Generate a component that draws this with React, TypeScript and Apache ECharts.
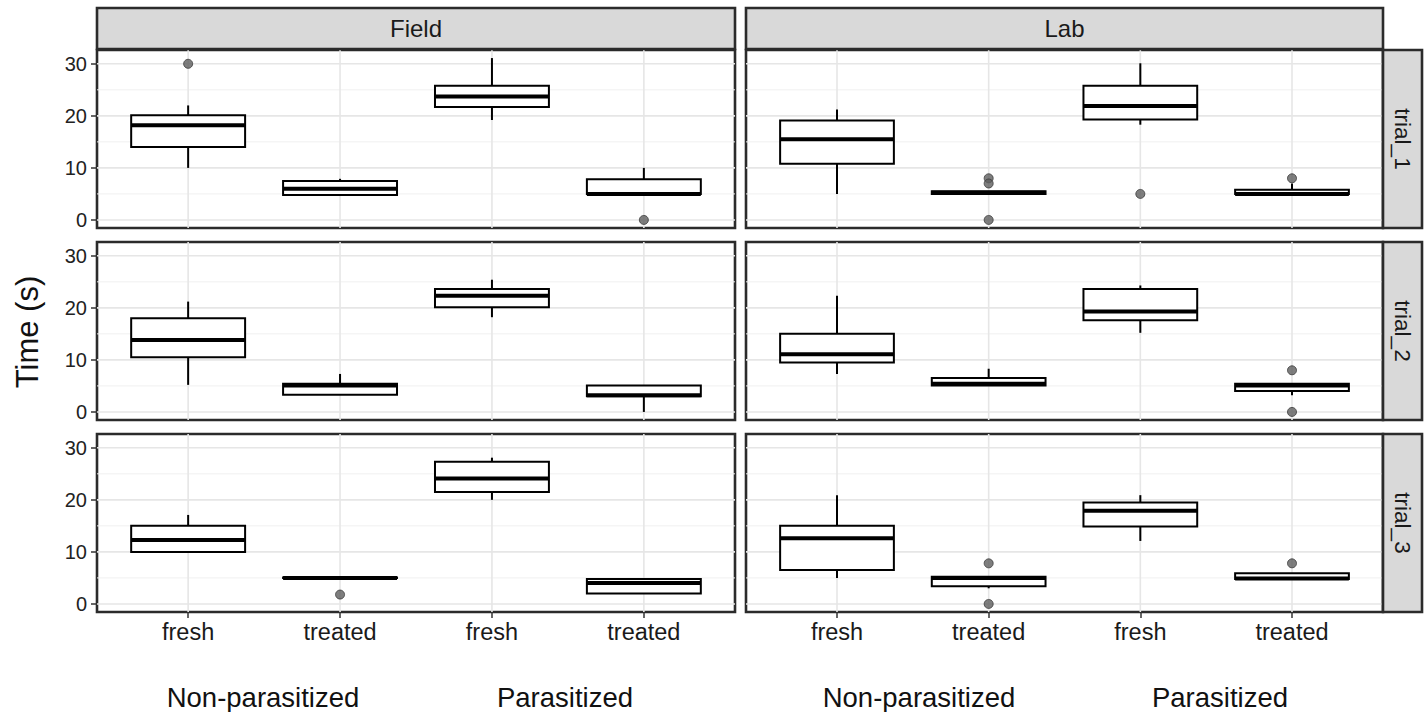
import React, { useEffect, useRef } from "react";
import * as echarts from "echarts";

// ---------- data ----------
const categories = ["fresh", "treated", "fresh", "treated"];
const groupLabels = ["Non-parasitized", "Parasitized"];
const sites = ["Field", "Lab"];
const trials = ["trial_1", "trial_2", "trial_3"];
const yTicks = [0, 10, 20, 30];
const yMinorTicks = [5, 15, 25];
const yTitle = "Time (s)";

// box stats per category: [low whisker, Q1, median, Q3, high whisker]
const fieldTrial1Box = [
  [10, 14, 18.2, 20.1, 22],
  [4.8, 4.8, 6, 7.5, 7.9],
  [19.2, 21.7, 23.7, 25.8, 31.1],
  [5, 5, 5, 7.8, 10],
];
const fieldTrial1Out = [[1, 30], [4, 0]];

const labTrial1Box = [
  [5, 10.8, 15.5, 19.1, 21.2],
  [5, 5, 5.2, 5.5, 5.5],
  [18.3, 19.3, 21.9, 25.8, 30.1],
  [5, 5, 5, 5.8, 7],
];
const labTrial1Out = [[2, 8], [2, 7], [2, 0], [3, 5], [4, 8]];

const fieldTrial2Box = [
  [5.2, 10.5, 13.8, 18, 21.2],
  [3.3, 3.3, 5.1, 5.4, 7.3],
  [18.2, 20.1, 22.3, 23.6, 25.4],
  [0, 3, 3.2, 5.1, 5.1],
];
const fieldTrial2Out: number[][] = [];

const labTrial2Box = [
  [7.3, 9.5, 11.1, 15, 22.3],
  [5.1, 5.1, 5.4, 6.5, 8.3],
  [15.2, 17.6, 19.3, 23.6, 24.3],
  [3.2, 4, 5.1, 5.4, 5.4],
];
const labTrial2Out = [[4, 8], [4, 0]];

const fieldTrial3Box = [
  [10, 10, 12.3, 15, 17.1],
  [5, 5, 5, 5.1, 5.1],
  [20, 21.5, 24.1, 27.3, 28.1],
  [2, 2, 4, 4.8, 4.8],
];
const fieldTrial3Out = [[2, 1.8]];

const labTrial3Box = [
  [5, 6.5, 12.6, 15, 20.9],
  [3, 3.4, 5, 5.2, 5.2],
  [12.1, 14.9, 17.9, 19.5, 20.9],
  [4.8, 4.8, 4.9, 5.9, 5.9],
];
const labTrial3Out = [[2, 7.8], [2, 0], [4, 7.8]];

const panels = [
  { col: 0, row: 0, box: fieldTrial1Box, out: fieldTrial1Out },
  { col: 1, row: 0, box: labTrial1Box, out: labTrial1Out },
  { col: 0, row: 1, box: fieldTrial2Box, out: fieldTrial2Out },
  { col: 1, row: 1, box: labTrial2Box, out: labTrial2Out },
  { col: 0, row: 2, box: fieldTrial3Box, out: fieldTrial3Out },
  { col: 1, row: 2, box: labTrial3Box, out: labTrial3Out },
];

// ---------- layout ----------
const FONT = "Liberation Sans, Arial, sans-serif";
const colLeft = [97, 746];
const colWidth = [638, 637];
const rowTop = [50, 242, 434];
const rowHeight = 178;
const xMin = 0.4;
const xMax = 4.6;
const yMin = -1.55;
const yMax = 32.65;
const boxHalf = 0.375;
const BORDER = "#2b2b2b";

export default function App() {
  const ref = useRef<HTMLDivElement>(null);

  useEffect(() => {
    if (!ref.current) return;
    const chart = echarts.init(ref.current, undefined, { renderer: "svg" });

    const grids: any[] = [];
    const xAxes: any[] = [];
    const yAxes: any[] = [];
    const series: any[] = [];

    panels.forEach((p, i) => {
      grids.push({
        left: colLeft[p.col],
        top: rowTop[p.row],
        width: colWidth[p.col],
        height: rowHeight,
        show: true,
        backgroundColor: "#ffffff",
        borderColor: BORDER,
        borderWidth: 2.6,
        containLabel: false,
      });
      const bottomRow = p.row === 2;
      const leftCol = p.col === 0;
      xAxes.push({
        type: "value",
        gridIndex: i,
        min: xMin,
        max: xMax,
        splitLine: { show: false },
        axisLine: { show: false, onZero: false },
        axisTick: {
          show: bottomRow,
          customValues: [1, 2, 3, 4],
          length: 6,
          lineStyle: { color: "#333", width: 1.5 },
        },
        axisLabel: {
          show: bottomRow,
          customValues: [1, 2, 3, 4],
          formatter: (v: number) => categories[Math.round(v) - 1] ?? "",
          fontSize: 23.5,
          color: "#1a1a1a",
          fontFamily: FONT,
          margin: 8,
        },
      });
      yAxes.push({
        type: "value",
        gridIndex: i,
        min: yMin,
        max: yMax,
        splitLine: { show: false },
        axisLine: { show: false, onZero: false },
        axisTick: {
          show: leftCol,
          customValues: yTicks,
          length: 6,
          lineStyle: { color: "#333", width: 1.5 },
        },
        axisLabel: {
          show: leftCol,
          customValues: yTicks,
          fontSize: 20,
          color: "#222",
          fontFamily: FONT,
          margin: 10,
        },
      });

      // horizontal grid lines
      series.push({
        type: "custom",
        xAxisIndex: i,
        yAxisIndex: i,
        silent: true,
        z: 1,
        data: yTicks.map((v) => [2.5, v, 1]).concat(yMinorTicks.map((v) => [2.5, v, 0])),
        renderItem: (_params: any, api: any) => {
          const v = api.value(1);
          const major = api.value(2) === 1;
          const a = api.coord([xMin, v]);
          const b = api.coord([xMax, v]);
          return {
            type: "line",
            shape: { x1: a[0], y1: a[1], x2: b[0], y2: b[1] },
            style: { stroke: major ? "#e6e6e6" : "#f0f0f0", lineWidth: major ? 1.6 : 1 },
          };
        },
      });
      // vertical grid lines
      series.push({
        type: "custom",
        xAxisIndex: i,
        yAxisIndex: i,
        silent: true,
        z: 1,
        data: [1, 2, 3, 4].map((x) => [x, 15]),
        renderItem: (_params: any, api: any) => {
          const x = api.value(0);
          const a = api.coord([x, yMin]);
          const b = api.coord([x, yMax]);
          return {
            type: "line",
            shape: { x1: a[0], y1: a[1], x2: b[0], y2: b[1] },
            style: { stroke: "#e6e6e6", lineWidth: 1.6 },
          };
        },
      });
      // boxes
      series.push({
        type: "custom",
        xAxisIndex: i,
        yAxisIndex: i,
        z: 3,
        encode: { x: 0, y: [1, 2, 3, 4, 5] },
        data: p.box.map((b, k) => [k + 1, ...b]),
        renderItem: (_params: any, api: any) => {
          const x = api.value(0);
          const lo = api.coord([x, api.value(1)]);
          const q1 = api.coord([x, api.value(2)]);
          const med = api.coord([x, api.value(3)]);
          const q3 = api.coord([x, api.value(4)]);
          const hi = api.coord([x, api.value(5)]);
          const left = api.coord([x - boxHalf, api.value(3)])[0];
          const right = api.coord([x + boxHalf, api.value(3)])[0];
          const stroke = { stroke: "#000", lineWidth: 2 };
          return {
            type: "group",
            children: [
              { type: "line", shape: { x1: lo[0], y1: lo[1], x2: q1[0], y2: q1[1] }, style: stroke },
              { type: "line", shape: { x1: q3[0], y1: q3[1], x2: hi[0], y2: hi[1] }, style: stroke },
              {
                type: "rect",
                shape: { x: left, y: q3[1], width: right - left, height: Math.max(q1[1] - q3[1], 0.5) },
                style: { fill: "#fff", stroke: "#000", lineWidth: 2 },
              },
              {
                type: "line",
                shape: { x1: left, y1: med[1], x2: right, y2: med[1] },
                style: { stroke: "#000", lineWidth: 4 },
              },
            ],
          };
        },
      });
      // outliers
      series.push({
        type: "scatter",
        xAxisIndex: i,
        yAxisIndex: i,
        z: 4,
        symbol: "circle",
        symbolSize: 9,
        itemStyle: { color: "#5e5e5e", borderColor: "#3a3a3a", borderWidth: 1 },
        data: p.out,
      });
    });

    const graphic: any[] = [];
    sites.forEach((s, c) => {
      graphic.push({
        type: "rect",
        shape: { x: colLeft[c], y: 8, width: colWidth[c], height: 41 },
        style: { fill: "#d9d9d9", stroke: BORDER, lineWidth: 2.6 },
        z: 10,
      });
      graphic.push({
        type: "text",
        x: colLeft[c] + colWidth[c] / 2,
        y: 28,
        style: { text: s, fontSize: 24, fontFamily: FONT, fill: "#1a1a1a", align: "center", verticalAlign: "middle" },
        z: 11,
      });
    });
    trials.forEach((t, r) => {
      const x0 = colLeft[1] + colWidth[1];
      graphic.push({
        type: "rect",
        shape: { x: x0, y: rowTop[r], width: 39, height: rowHeight },
        style: { fill: "#d9d9d9", stroke: BORDER, lineWidth: 2.6 },
        z: 10,
      });
      graphic.push({
        type: "text",
        x: x0 + 19.5,
        y: rowTop[r] + rowHeight / 2,
        rotation: -Math.PI / 2,
        style: { text: t, fontSize: 22.5, fontFamily: FONT, fill: "#1a1a1a", align: "center", verticalAlign: "middle" },
        z: 11,
      });
    });
    graphic.push({
      type: "text",
      x: 27,
      y: 332,
      rotation: Math.PI / 2,
      style: { text: yTitle, fontSize: 31, fontFamily: FONT, fill: "#111", align: "center", verticalAlign: "middle" },
    });
    const groupX = [263, 565, 919, 1220];
    groupX.forEach((gx, k) => {
      graphic.push({
        type: "text",
        x: gx,
        y: 697,
        style: {
          text: groupLabels[k % 2],
          fontSize: 27.5,
          fontFamily: FONT,
          fill: "#111",
          align: "center",
          verticalAlign: "middle",
        },
      });
    });

    chart.setOption({
      animation: false,
      backgroundColor: "#ffffff",
      textStyle: { fontFamily: FONT },
      grid: grids,
      xAxis: xAxes,
      yAxis: yAxes,
      series,
      graphic,
    });

    return () => chart.dispose();
  }, []);

  return (
    <div
      ref={ref}
      style={{ position: "fixed", left: 0, top: 0, width: 1428, height: 712, background: "#fff" }}
    />
  );
}
